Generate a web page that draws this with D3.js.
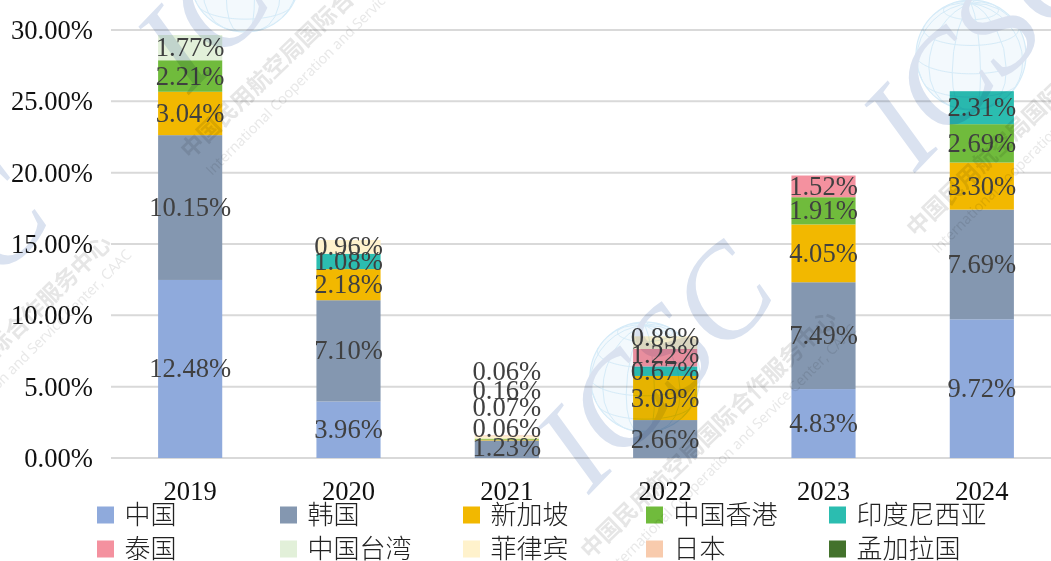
<!DOCTYPE html>
<html><head><meta charset="utf-8">
<script src="https://cdn.jsdelivr.net/npm/d3@7"></script>
<style>html,body{margin:0;padding:0;background:#fff;overflow:hidden}svg{display:block;filter:blur(0.45px)}</style>
</head><body><svg id="c" width="1051" height="561"></svg>
<script>
const years = ["2019","2020","2021","2022","2023","2024"];
const seriesNames = ["中国","韩国","新加坡","中国香港","印度尼西亚","泰国","中国台湾","菲律宾","日本","孟加拉国"];
const china     = [12.48,3.96,null,null,4.83,9.72];
const korea     = [10.15,7.10,1.23,2.66,7.49,7.69];
const singapore = [3.04,2.18,0.06,3.09,4.05,3.30];
const hongkong  = [2.21,null,0.07,null,1.91,2.69];
const indonesia = [null,1.08,null,0.67,null,2.31];
const thailand  = [null,null,null,1.22,1.52,null];
const taiwan    = [1.77,null,null,null,null,null];
const philippines=[null,0.96,0.16,0.89,null,null];
const japan     = [null,null,0.06,null,null,null];
const bangladesh= [null,null,null,null,null,null];
const seriesValues = [china,korea,singapore,hongkong,indonesia,thailand,taiwan,philippines,japan,bangladesh];
const colors = ["#8faadc","#8497b0","#f2b800","#70bb3c","#2bbdb0","#f4919f","#e2f0d9","#fff2cc","#f8cbad","#43722c"];
const yTicks = [0,5,10,15,20,25,30];
// Hand-moved data labels of the original, in pixels: [year, series, shift]
const labelShift = [["2021","韩国",-2],["2021","新加坡",-12],["2021","中国香港",-32],["2021","菲律宾",-47],["2021","日本",-64],["2022","菲律宾",-5],["2022","泰国",-3]];

const svg = d3.select("#c");
const serif = "'Liberation Serif','Noto Sans CJK SC',serif";
const x = d3.scaleBand().domain(years).range([111,1061]).paddingInner(0.595).paddingOuter(0.2975);
const y = d3.scaleLinear().domain([0,30]).range([458,30]);

// grid
svg.append("g").selectAll("line").data(yTicks).join("line")
  .attr("x1",111).attr("x2",1051).attr("y1",d=>y(d)).attr("y2",d=>y(d))
  .attr("stroke","#d9d9d9").attr("stroke-width",2);

// y axis labels
const yAxis = d3.axisLeft(y).tickValues(yTicks).tickSize(0).tickPadding(18).tickFormat(d=>d.toFixed(2)+"%");
const ga = svg.append("g").attr("transform","translate(111,0)").call(yAxis);
ga.select(".domain").remove();
ga.selectAll("text").attr("font-family",serif).attr("font-size",26.6).attr("fill","#111");

// x axis labels
const xAxis = d3.axisBottom(x).tickSize(0).tickPadding(23);
const gx = svg.append("g").attr("transform","translate(0,458)").call(xAxis);
gx.select(".domain").remove();
gx.selectAll("text").attr("font-family",serif).attr("font-size",26.6).attr("fill","#111");

// stacks
const rows = years.map((yr,i)=>{const r={year:yr};seriesNames.forEach((n,k)=>r[n]=seriesValues[k][i]||0);return r;});
const stacked = d3.stack().keys(seriesNames)(rows);
const bars = svg.append("g");
stacked.forEach((s,k)=>{
  bars.append("g").attr("fill",colors[k]).selectAll("rect").data(s.filter(d=>d[1]>d[0])).join("rect")
    .attr("x",d=>x(d.data.year)).attr("width",x.bandwidth())
    .attr("y",d=>y(d[1])).attr("height",d=>y(d[0])-y(d[1]));
});
const labels = svg.append("g");
stacked.forEach((s,k)=>{
  labels.append("g").selectAll("text").data(s.filter(d=>d[1]>d[0])).join("text")
    .attr("x",d=>x(d.data.year)+x.bandwidth()/2)
    .attr("y",d=>{
      const m=labelShift.find(a=>a[0]===d.data.year&&a[1]===seriesNames[k]);
      return y((d[0]+d[1])/2)+(m?m[2]:0);
    })
    .attr("dy","0.32em").attr("text-anchor","middle")
    .attr("font-family",serif).attr("font-size",26.6).attr("fill","#404040")
    .text(d=>(d[1]-d[0]).toFixed(2)+"%");
});

// legend
const legX = d3.scalePoint().domain(d3.range(5)).range([97,829]);
const legY = d3.scalePoint().domain([0,1]).range([515,549]);
const leg = svg.append("g").selectAll("g").data(seriesNames).join("g")
  .attr("transform",(d,i)=>`translate(${legX(i%5)},${legY(Math.floor(i/5))})`);
leg.append("rect").attr("x",0).attr("y",-8.5).attr("width",17).attr("height",17).attr("fill",(d,i)=>colors[i]);
leg.append("text").attr("x",27.5).attr("dy","0.36em").attr("font-family","'Noto Sans CJK SC',sans-serif")
  .attr("font-weight",300).attr("font-size",26).attr("fill","#222").text(d=>d);

// watermark
const wmOrigins = [[0,0],[326,-322],[-400,-400],[-725,-75]];
const wm = svg.append("g").style("mix-blend-mode","multiply").attr("pointer-events","none");
wmOrigins.forEach(o=>{
  const g = wm.append("g").attr("transform",`translate(${o[0]},${o[1]})`);
  const proj = d3.geoOrthographic().scale(55).translate([645,377]).rotate([-20,-20]).clipAngle(90);
  const path = d3.geoPath(proj);
  g.append("path").datum({type:"Sphere"}).attr("d",path).attr("fill","#f3f9fd").attr("stroke","#d5ebf8").attr("stroke-width",1.2);
  g.append("path").datum(d3.geoGraticule().step([30,30])()).attr("d",path).attr("fill","none").attr("stroke","#d5ebf8").attr("stroke-width",1);
  g.append("text").attr("transform","translate(655,366) rotate(-46)").attr("text-anchor","middle").attr("dy","0.33em")
    .attr("font-family","'Liberation Serif',serif").attr("font-style","italic").attr("font-size",128).attr("fill","#dae2f0").text("ICSC");
  g.append("text").attr("transform","translate(590,560) rotate(-44)")
    .attr("font-family","'Noto Sans CJK SC',sans-serif").attr("font-weight",700).attr("font-size",23).attr("fill","#e6e6e6").text("中国民用航空局国际合作服务中心");
  g.append("text").attr("transform","translate(612,576) rotate(-45)")
    .attr("font-family","'Open Sans',sans-serif").attr("font-size",14.4).attr("fill","#e8e8e8").text("International Cooperation and Service Center, CAAC");
});
</script></body></html>
